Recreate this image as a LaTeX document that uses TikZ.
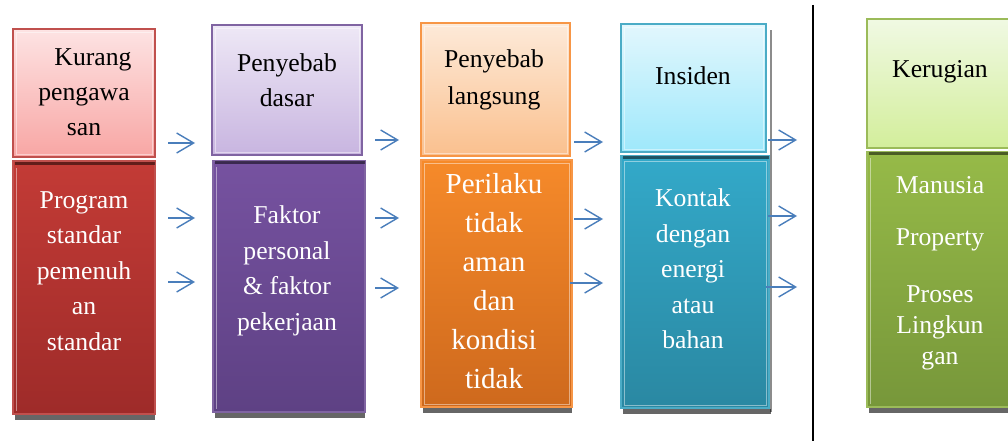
\documentclass[tikz,border=0pt]{standalone}
\usepackage{fontspec}
\setmainfont{Liberation Serif}
\usetikzlibrary{arrows.meta}
\definecolor{rT1}{HTML}{FDE3E3}\definecolor{rT2}{HTML}{F8A6A4}\definecolor{rB}{HTML}{C0504D}
\definecolor{rL1}{HTML}{C33B36}\definecolor{rL2}{HTML}{9E2B29}
\definecolor{pT1}{HTML}{EEE8F6}\definecolor{pT2}{HTML}{C8B5E0}\definecolor{pB}{HTML}{8064A2}
\definecolor{pL1}{HTML}{7652A0}\definecolor{pL2}{HTML}{5E4184}
\definecolor{oT1}{HTML}{FDEAD9}\definecolor{oT2}{HTML}{FAC08E}\definecolor{oB}{HTML}{F79646}
\definecolor{oL1}{HTML}{F68A2A}\definecolor{oL2}{HTML}{CE691D}
\definecolor{tT1}{HTML}{E2F7FD}\definecolor{tT2}{HTML}{9EE8FB}\definecolor{tB}{HTML}{4BACC6}
\definecolor{tL1}{HTML}{33A9C9}\definecolor{tL2}{HTML}{2A88A2}
\definecolor{gT1}{HTML}{F0F9E3}\definecolor{gT2}{HTML}{D3EE9B}\definecolor{gB}{HTML}{9BBB59}
\definecolor{gL1}{HTML}{96BA48}\definecolor{gL2}{HTML}{77973A}
\definecolor{arr}{HTML}{4A7EBB}
\tikzset{
  box/.style={draw=#1, line width=1.2pt, inner sep=0pt, outer sep=0pt},
  inner/.style={draw=white, draw opacity=0.45, line width=0.8pt},
  hd/.style={font=\fontsize{25.7pt}{35pt}\selectfont, text=black, align=center, inner sep=0pt},
  bd/.style={font=\fontsize{25.7pt}{35.5pt}\selectfont, text=white, align=center, inner sep=0pt},
  flow/.style={draw=arr, line width=1.4pt, -{Straight Barb[length=17pt,width=20pt]}},
  shad/.style={fill=black, fill opacity=0.6},
  seam/.style={fill=black, fill opacity=0.5}
}
\begin{document}
\begin{tikzpicture}[x=1pt,y=-1pt]
\useasboundingbox (0,0) rectangle (1008,441);
\clip (0,0) rectangle (1008,441);
\fill[white] (0,0) rectangle (1008,441);

% ---------- column 1 (red)
\node[box=rB, top color=rT1, bottom color=rT2, minimum width=142pt, minimum height=128pt] (b1t) at (84,93) {};
\node[box=rB, top color=rL1, bottom color=rL2, minimum width=142pt, minimum height=253pt] (b1b) at (84,287.5) {};
\fill[shad] (15,415) rectangle (155,420);
\fill[seam] (15,162) rectangle (155,164.5);
\draw[inner] (16,32) rectangle (152,154);
\draw[inner] (16,168) -- (16,411);

% ---------- column 2 (purple)
\node[box=pB, top color=pT1, bottom color=pT2, minimum width=150pt, minimum height=130pt] (b2t) at (287,90) {};
\node[box=pB, top color=pL1, bottom color=pL2, minimum width=152pt, minimum height=251pt] (b2b) at (289,286.5) {};
\fill[shad] (215,413) rectangle (365,418);
\fill[seam] (215,161) rectangle (365,163.5);
\draw[inner] (215,28) rectangle (359,152);
\draw[inner] (216,167) -- (216,409);

% ---------- column 3 (orange)
\node[box=oB, top color=oT1, bottom color=oT2, minimum width=149pt, minimum height=133pt] (b3t) at (495.5,89.5) {};
\node[box=oB, top color=oL1, bottom color=oL2, minimum width=151pt, minimum height=247pt] (b3b) at (496.5,283.5) {};
\fill[shad] (423,408) rectangle (572,413);
\draw[inner] (424,26) rectangle (567,153);
\draw[inner] (424,163) rectangle (569,404);

% ---------- column 4 (teal)
\node[box=tB, top color=tT1, bottom color=tT2, minimum width=145pt, minimum height=128pt] (b4t) at (693.5,88) {};
\node[box=tB, top color=tL1, bottom color=tL2, minimum width=148pt, minimum height=252pt] (b4b) at (695,282) {};
\fill[shad] (623,409) rectangle (771,414);
\fill[seam] (623,156) rectangle (769,158.5);
\fill[black, fill opacity=0.45] (769.5,30) rectangle (771.5,412);
\draw[inner] (624,27) rectangle (763,149);
\draw[inner] (624,161) rectangle (766,405);

% ---------- column 5 (green)
\node[box=gB, top color=gT1, bottom color=gT2, minimum width=153pt, minimum height=129pt] (b5t) at (943.5,83.5) {};
\node[box=gB, top color=gL1, bottom color=gL2, minimum width=153pt, minimum height=255pt] (b5b) at (943.5,279.5) {};
\fill[shad] (869,408) rectangle (1008,413);
\fill[seam] (869,152) rectangle (1008,154.5);
\draw[inner] (870,158) -- (870,404);

% ---------- separator
\coordinate (sepTop) at (813,5);
\coordinate (sepBot) at (813,441);
\draw[line width=1.8pt, black] (sepTop) -- (sepBot);

% ---------- texts
\node[hd] (t1) at (84,92) {\hspace*{18pt}Kurang\\pengawa\\san};
\node[bd] (u1) at (84,271) {Program\\standar\\pemenuh\\an\\standar};
\node[hd] (t2) at (287,80) {Penyebab\\dasar};
\node[bd] (u2) at (287,271) {Faktor\\personal\\\&~faktor\\pekerjaan};
\node[hd, font=\fontsize{25.7pt}{36.5pt}\selectfont] (t3) at (494,80) {Penyebab\\langsung};
\node[bd, font=\fontsize{29pt}{39pt}\selectfont] (u3) at (494,281) {Perilaku\\tidak\\aman\\dan\\kondisi\\tidak};
\node[hd] (t4) at (693,76) {Insiden};
\node[bd] (u4) at (693,269) {Kontak\\dengan\\energi\\atau\\bahan};
\node[hd] (t5) at (940,72) {Kerugian};
\node[bd] (u5a) at (940,185) {Manusia};
\node[bd] (u5b) at (940,240) {Property};
\node[bd, font=\fontsize{25.7pt}{31pt}\selectfont] (u5c) at (940,328) {Proses\\Lingkun\\gan};

% ---------- arrows
\foreach \n/\xa/\xb/\y in {a1/168/195/143, a2/168/195/218, a3/168/195/282,
                           b1/375/399/140, b2/375/399/218, b3/375/399/288,
                           c1/574/603/142, c2/574/603/219, c3/570/603/283,
                           d1/768/797/140, d2/768/797/216, d3/766/797/287}{
  \coordinate (\n s) at (\xa,\y);
  \coordinate (\n e) at (\xb,\y);
  \draw[flow] (\n s) -- (\n e);
}
\end{tikzpicture}
\end{document}
